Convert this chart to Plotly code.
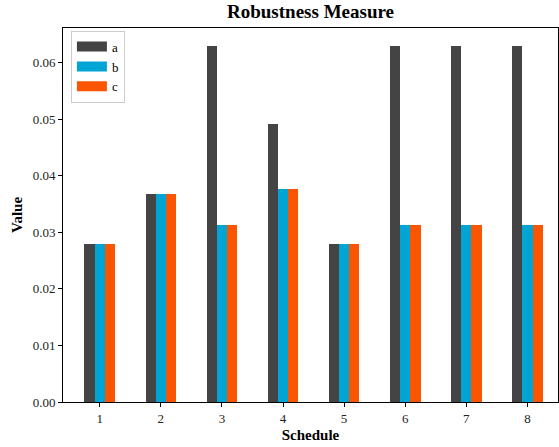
import plotly.graph_objects as go

schedules = [1, 2, 3, 4, 5, 6, 7, 8]
series_names = ["a", "b", "c"]
a_vals = [0.0280, 0.0368, 0.0630, 0.0492, 0.0280, 0.0630, 0.0630, 0.0630]
b_vals = [0.0280, 0.0368, 0.0313, 0.0376, 0.0280, 0.0313, 0.0313, 0.0313]
c_vals = [0.0280, 0.0368, 0.0313, 0.0376, 0.0280, 0.0313, 0.0313, 0.0313]
colors = ["#444444", "#00a5d6", "#fa5500"]
y_ticks = [0.00, 0.01, 0.02, 0.03, 0.04, 0.05, 0.06]

FONT = "Liberation Serif, Times New Roman, serif"
bw = 0.5 / 3

fig = go.Figure()
for i, (name, vals) in enumerate(zip(series_names, [a_vals, b_vals, c_vals])):
    offs = (i - 1) * bw
    fig.add_trace(go.Bar(
        x=[s + offs for s in schedules], y=vals, width=bw,
        marker=dict(color=colors[i], line=dict(width=0)),
        name=name, showlegend=False,
    ))
    fig.add_trace(go.Scatter(
        x=[None], y=[None], mode="lines", name=name,
        line=dict(color=colors[i], width=10),
    ))

axis_common = dict(
    showline=True, linecolor="black", linewidth=1, mirror=True,
    ticks="outside", ticklen=4, tickcolor="black", tickwidth=1,
    showgrid=False, zeroline=False,
    tickfont=dict(family=FONT, size=13, color="#222"),
)

fig.update_layout(
    width=559, height=447,
    margin=dict(l=63, r=1, t=28, b=45),
    plot_bgcolor="white", paper_bgcolor="white",
    bargap=0,
    title=dict(text="<b>Robustness Measure</b>", x=0.5, xref="paper", y=0.99,
               yanchor="top", font=dict(family=FONT, size=19, color="black")),
    xaxis=dict(range=[0.4, 8.5], tickvals=schedules, ticktext=[str(s) for s in schedules],
               title=dict(text="<b>Schedule</b>", font=dict(family=FONT, size=15, color="black"),
                          standoff=4),
               automargin=False,
               **axis_common),
    yaxis=dict(range=[0, 0.0661], tickvals=y_ticks, tickformat=".2f",
               title=dict(text="<b>Value</b>", font=dict(family=FONT, size=15, color="black"),
                          standoff=6),
               automargin=False,
               **axis_common),
    legend=dict(x=0.016, y=0.993, xanchor="left", yanchor="top",
                bgcolor="white", bordercolor="#cccccc", borderwidth=1,
                font=dict(family=FONT, size=13, color="black"),
                itemwidth=30, tracegroupgap=0),
)

fig.write_html("out.html", config={"displayModeBar": False},
               post_script="document.body.style.margin='0';document.body.style.padding='0';")
